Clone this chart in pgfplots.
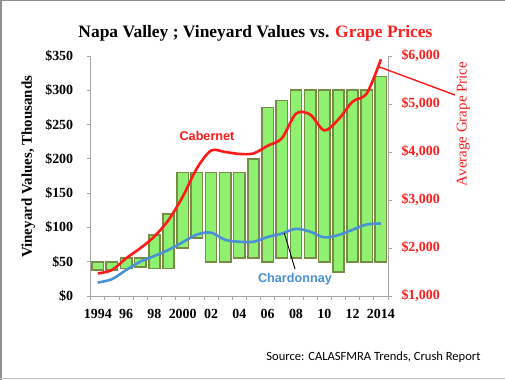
\documentclass[border=0pt]{standalone}
\usepackage{pgfplots}
\pgfplotsset{compat=1.18}
\usepackage{pgfplotstable}
\usepackage{fontspec}
\setmainfont{Liberation Serif}
\newfontfamily\arialfont{Liberation Sans}
\newfontfamily\calibrifont{Carlito}
\definecolor{barfill}{RGB}{144,240,112}
\definecolor{barborder}{RGB}{120,140,70}
\definecolor{cabred}{RGB}{255,25,25}
\definecolor{titlered}{RGB}{255,30,30}
\definecolor{charblue}{RGB}{74,144,214}
\definecolor{axisgray}{RGB}{165,165,165}
\definecolor{framegray}{RGB}{140,145,150}

\pgfplotstableread{
idx lo hi cab chard
0 38 50 1470 1280
1 38 50 1540 1350
2 40 55 1785 1540
3 42 55 1995 1715
4 40 89 2240 1835
5 40 120 2585 1960
6 70 180 3070 2120
7 85 180 3660 2280
8 50 180 4030 2320
9 50 180 4000 2170
10 55 180 3960 2130
11 55 200 3970 2130
12 50 275 4130 2230
13 55 285 4285 2300
14 55 300 4800 2400
15 55 300 4780 2340
16 50 300 4450 2220
17 35 300 4680 2270
18 50 300 5050 2380
19 50 300 5220 2490
20 50 320 5930 2510
}\data

\begin{document}
\begin{tikzpicture}
\fill[white] (0,0) rectangle (505bp,380bp);
\useasboundingbox (0,0) rectangle (505bp,380bp);
\draw[framegray, line width=1.5bp] (0.75bp,0) -- (0.75bp,379.25bp) -- (505bp,379.25bp);
\draw[framegray!60, line width=1bp] (0,1.3bp) -- (505bp,1.3bp);

\begin{axis}[
  at={(90.7bp,84bp)}, anchor=south west,
  scale only axis, width=297.3bp, height=240bp,
  xmin=-0.5, xmax=20.5, ymin=0, ymax=350,
  ybar stacked, bar width=0.8,
  axis x line*=bottom, axis y line*=left,
  axis line style={draw=axisgray, line width=0.8bp},
  tick style={draw=axisgray, line width=0.8bp},
  tick align=outside,
  major tick length=4bp, minor tick length=4bp,
  ytick={0,50,100,150,200,250,300,350},
  yticklabels={\$0,\$50,\$100,\$150,\$200,\$250,\$300,\$350},
  xtick={0,2,4,6,8,10,12,14,16,18,20},
  xticklabels={1994,96,98,2000,02,04,06,08,10,12,2014},
  minor xtick={-0.5,0.5,1.5,2.5,3.5,4.5,5.5,6.5,7.5,8.5,9.5,10.5,11.5,12.5,13.5,14.5,15.5,16.5,17.5,18.5,19.5,20.5},
  major x tick style={draw=none},
  yticklabel style={font=\fontsize{14}{14}\selectfont\bfseries, xshift=-10bp},
  xticklabel style={font=\fontsize{14}{14}\selectfont\bfseries, yshift=-6bp},
]
\addplot[draw=none, fill=none] table[x=idx, y=lo]{\data};
\addplot[fill=barfill, draw=barborder, line width=1.6bp] table[x=idx, y expr=\thisrow{hi}-\thisrow{lo}]{\data};
\end{axis}

\begin{axis}[
  at={(90.7bp,84bp)}, anchor=south west,
  scale only axis, width=297.3bp, height=240bp,
  xmin=-0.5, xmax=20.5, ymin=1000, ymax=6000,
  axis x line=none, axis y line*=right,
  axis line style={draw=axisgray, line width=0.8bp},
  tick style={draw=axisgray, line width=0.8bp},
  tick align=outside, major tick length=4bp,
  ytick={1000,2000,3000,4000,5000,6000},
  yticklabels={{\$1,000},{\$2,000},{\$3,000},{\$4,000},{\$5,000},{\$6,000}},
  yticklabel style={font=\fontsize{14}{14}\selectfont\bfseries, text=titlered, xshift=6bp},
]
\addplot[charblue, line width=2.6bp, smooth, tension=0.5] table[x=idx, y=chard]{\data};
\addplot[cabred, line width=2.6bp, smooth, tension=0.5] table[x=idx, y=cab]{\data};
\end{axis}

\node[anchor=base, font=\fontsize{17.5}{20}\selectfont\bfseries] at (255.5bp,342bp)
  {Napa Valley ; Vineyard Values vs. \textcolor{titlered}{Grape Prices}};
\node[rotate=90, font=\fontsize{15}{15}\selectfont\bfseries] at (28.3bp,213.3bp) {Vineyard Values, Thousands};
\node[rotate=90, text=titlered, font=\fontsize{15}{15}\selectfont] at (463.3bp,256bp) {Average Grape Price};
\node[text=cabred, font=\arialfont\bfseries\fontsize{12.7}{13}\selectfont] at (207bp,244.3bp) {Cabernet};
\node[text=charblue, font=\arialfont\bfseries\fontsize{12.7}{13}\selectfont] at (295bp,101bp) {Chardonnay};
\draw[black, line width=0.9bp] (295bp,111bp) -- (284.3bp,147bp);
\draw[cabred, line width=1.4bp] (378.7bp,313.3bp) -- (455bp,285bp);
\node[font=\calibrifont\fontsize{12.6}{13}\selectfont] at (373.5bp,23.3bp) {Source: CALASFMRA Trends, Crush Report};
\end{tikzpicture}
\end{document}
